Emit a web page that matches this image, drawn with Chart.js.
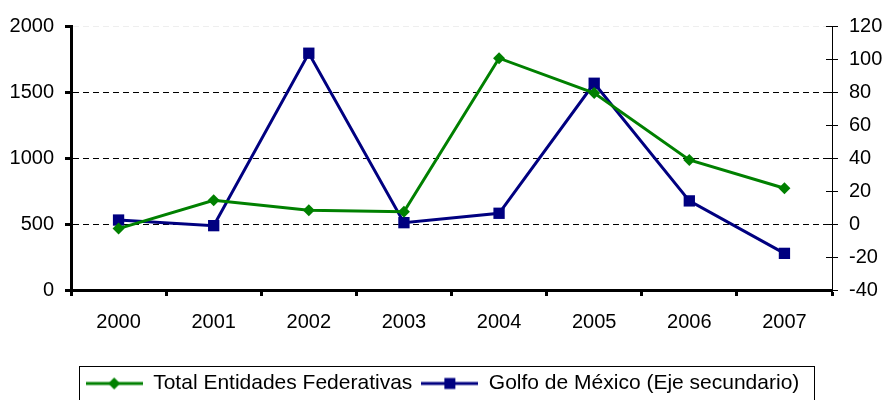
<!DOCTYPE html>
<html>
<head>
<meta charset="utf-8">
<script src="https://cdn.jsdelivr.net/npm/chart.js@4"></script>
<style>
  html, body { margin: 0; padding: 0; background: #fff; }
  #wrap { width: 885px; height: 400px; position: relative; }
</style>
</head>
<body>
<div id="wrap"><canvas id="chart"></canvas></div>
<script>
const years = ['2000', '2001', '2002', '2003', '2004', '2005', '2006', '2007'];
const totalEntidades = [465, 680, 605, 592, 1756, 1492, 985, 771];
const golfoMexico = [2.4, -1, 103.5, 0.8, 6.5, 85.3, 14, -17.8];
const leftTicks = [0, 500, 1000, 1500, 2000];
const rightTicks = [-40, -20, 0, 20, 40, 60, 80, 100, 120];

const GREEN = '#008000';
const NAVY = '#000080';
const FONT = "'Liberation Sans', Arial, sans-serif";

// small legend sample: line with the marker in the middle
function legendMark(color, shape) {
  const c = document.createElement('canvas');
  c.width = 57; c.height = 14;
  const g = c.getContext('2d');
  g.strokeStyle = color; g.fillStyle = color; g.lineWidth = 3;
  g.beginPath(); g.moveTo(0, 7); g.lineTo(57, 7); g.stroke();
  g.beginPath();
  if (shape === 'diamond') {
    g.moveTo(28.5, 1); g.lineTo(34.5, 7); g.lineTo(28.5, 13); g.lineTo(22.5, 7);
  } else {
    g.rect(23, 1.5, 11, 11);
  }
  g.closePath(); g.fill();
  return c;
}
const marks = [legendMark(GREEN, 'diamond'), legendMark(NAVY, 'square')];

const legendBox = {
  id: 'legendBox',
  afterDraw(chart) {
    const boxes = chart.legend.legendHitBoxes;
    if (!boxes || !boxes.length) return;
    const l = Math.min(...boxes.map(b => b.left)) - 7;
    const r = Math.max(...boxes.map(b => b.left + b.width)) + 14;
    const mid = boxes[0].top + boxes[0].height / 2;
    const t = mid - 18;
    const ctx = chart.ctx;
    ctx.save();
    ctx.strokeStyle = '#000'; ctx.lineWidth = 1;
    ctx.strokeRect(Math.round(l) + 0.5, Math.round(t) + 0.5, Math.round(r - l), 60);
    ctx.restore();
  }
};

// right axis tick marks also reach a little into the plot
const innerTicks = {
  id: 'innerTicks',
  afterDraw(chart) {
    const s = chart.scales.y1;
    const ctx = chart.ctx;
    ctx.save();
    ctx.strokeStyle = '#000'; ctx.lineWidth = 1;
    rightTicks.forEach(v => {
      const y = Math.round(s.getPixelForValue(v)) + 0.5;
      ctx.beginPath(); ctx.moveTo(s.left - 6, y); ctx.lineTo(s.left, y); ctx.stroke();
    });
    ctx.restore();
  }
};

new Chart(document.getElementById('chart'), {
  type: 'line',
  data: {
    labels: years,
    datasets: [
      {
        label: 'Total Entidades Federativas',
        data: totalEntidades,
        yAxisID: 'y',
        borderColor: GREEN, backgroundColor: GREEN,
        borderWidth: 3, pointStyle: 'rectRot', pointRadius: 6,
        pointBorderWidth: 0, tension: 0
      },
      {
        label: 'Golfo de México (Eje secundario)',
        data: golfoMexico,
        yAxisID: 'y1',
        borderColor: NAVY, backgroundColor: NAVY,
        borderWidth: 3, pointStyle: 'rect', pointRadius: 8,
        pointBorderWidth: 0, tension: 0
      }
    ]
  },
  options: {
    responsive: true,
    maintainAspectRatio: false,
    animation: false,
    layout: { padding: { top: 26, left: 0, right: 0, bottom: -4 } },
    plugins: {
      tooltip: { enabled: false },
      legend: {
        position: 'bottom',
        labels: {
          font: { family: FONT, size: 21 },
          color: '#000',
          usePointStyle: true,
          pointStyleWidth: 57,
          boxHeight: 14,
          padding: 9,
          generateLabels(chart) {
            const items = Chart.defaults.plugins.legend.labels.generateLabels(chart);
            items.forEach((it, i) => { it.pointStyle = marks[i]; });
            return items;
          }
        }
      }
    },
    scales: {
      x: {
        offset: true,
        grid: { offset: true, drawOnChartArea: false, color: '#000', tickLength: 6, tickWidth: 3 },
        border: { color: '#000', width: 3 },
        ticks: { color: '#000', font: { family: FONT, size: 20 }, padding: 14, maxRotation: 0 },
        afterFit(s) { s.height = 74; }
      },
      y: {
        position: 'left',
        min: 0, max: 2000,
        afterBuildTicks(s) { s.ticks = leftTicks.map(v => ({ value: v })); },
        grid: {
          color: ctx => {
            const v = ctx.tick ? ctx.tick.value : null;
            if (v === 500 || v === 1000 || v === 1500) return '#000';
            if (v === 2000) return '#eeeeee';
            return 'rgba(0,0,0,0)';
          },
          tickColor: '#000', tickLength: 6, tickWidth: 3, lineWidth: 1
        },
        border: { color: '#000', width: 3, dash: [6, 4] },
        ticks: { color: '#000', font: { family: FONT, size: 20 }, padding: 11, callback: v => String(v) },
        afterFit(s) { s.width = 71; }
      },
      y1: {
        position: 'right',
        min: -40, max: 120,
        afterBuildTicks(s) { s.ticks = rightTicks.map(v => ({ value: v })); },
        grid: { drawOnChartArea: false, tickColor: '#000', tickLength: 6, tickWidth: 1 },
        border: { color: '#000', width: 1 },
        ticks: { color: '#000', font: { family: FONT, size: 20 }, padding: 11, callback: v => String(v) },
        afterFit(s) { s.width = 53; }
      }
    }
  },
  plugins: [legendBox, innerTicks]
});
</script>
</body>
</html>
